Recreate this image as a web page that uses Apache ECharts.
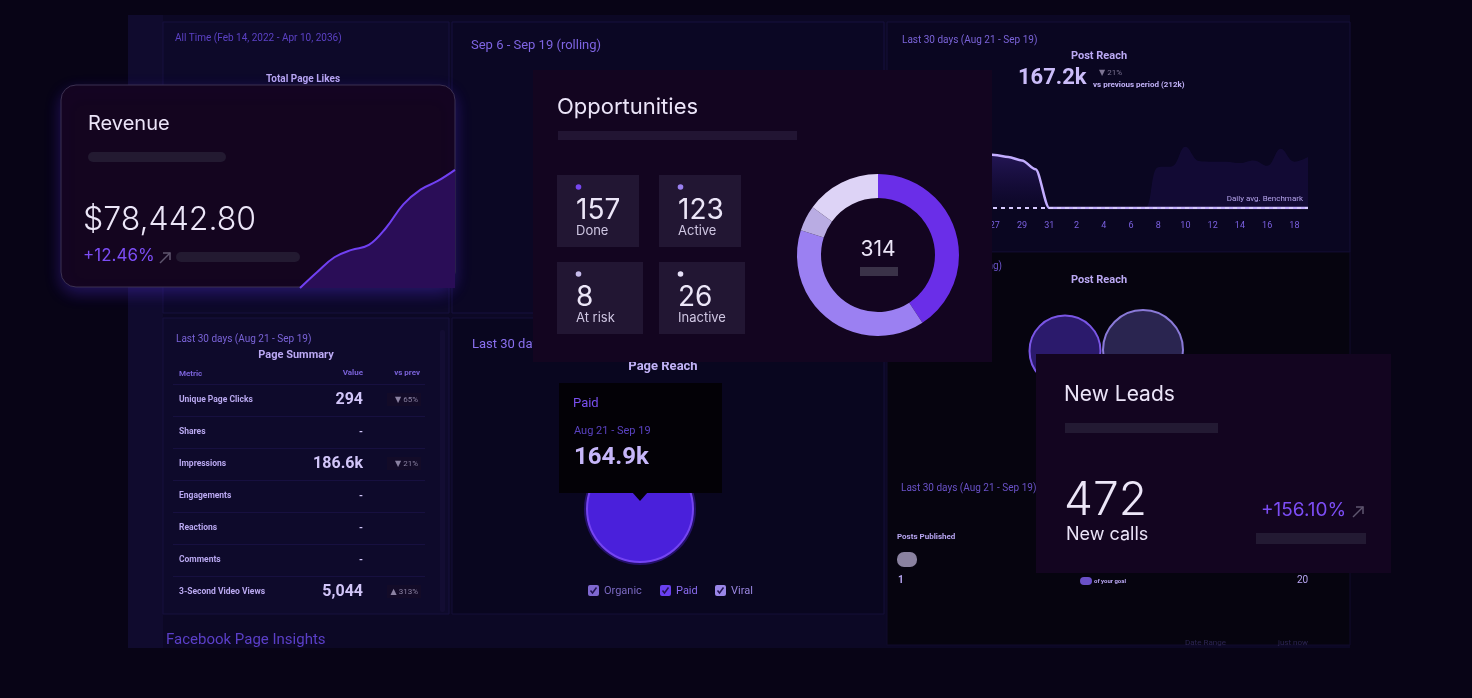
<!DOCTYPE html>
<html>
<head>
<meta charset="utf-8">
<title>Dashboard</title>
<script src="https://cdn.jsdelivr.net/npm/echarts@6/dist/echarts.min.js"></script>
<style>
html, body { margin: 0; padding: 0; background: #080416; }
#main { width: 1472px; height: 698px; }
</style>
</head>
<body>
<div id="main"></div>
<script>
var chart = echarts.init(document.getElementById('main'));

// revenue sparkline (card, bottom right)
var revenueTrend = [0, 13, 25, 31, 35, 49, 68, 80, 87, 96];

// opportunities
var oppLabels = ['Done', 'Active', 'At risk', 'Inactive'];
var oppCounts = [157, 123, 8, 26];
var oppArc = [128, 123, 16, 47]; // donut arcs as drawn
var oppTotal = 314;
var oppColors = ['#6a2ee8', '#9b80f2', '#b9ace3', '#ddd3f6'];

// post reach, Aug 21 - Sep 19
var reachDays = ['21', '22', '23', '24', '25', '26', '27', '28', '29', '30', '31',
    '1', '2', '3', '4', '5', '6', '7', '8', '9', '10', '11', '12', '13', '14', '15', '16', '17', '18', '19'];
var reachCurrent = [80, 81, 80, 79, 80, 79, 78, 75, 70, 57, 0,
    0, 0, 0, 0, 0, 0, 0, 0, 0, 0, 0, 0, 0, 0, 0, 0, 0, 0, 0];
var reachPrevious = [0, 0, 0, 0, 0, 0, 0, 0, 0, 0, 0,
    0, 0, 0, 0, 0, 0, 0, 60, 61, 90, 69, 68, 68, 66, 70, 62, 87, 68, 75];

// post reach bubbles
var bubbleNames = ['Organic', 'Paid'];
var bubbleX = [65, 143];
var bubbleY = [49, 50];
var bubbleSize = [71, 80];

// page reach
var pageReachNames = ['Organic', 'Paid', 'Viral'];
var pageReachValues = [0, 164.9, 0];

// page summary table
var summaryMetrics = ['Unique Page Clicks', 'Shares', 'Impressions', 'Engagements', 'Reactions', 'Comments', '3-Second Video Views'];
var summaryValues = ['294', '-', '186.6k', '-', '-', '-', '5,044'];
var summaryChange = ['\u25BC 65%', '', '\u25BC 21%', '', '', '', '\u25B2 313%'];

var els = [];
function box(x, y, w, h, fill, z, o) {
    o = o || {};
    var e = {
        type: 'rect', z: z, silent: true,
        shape: { x: x, y: y, width: w, height: h, r: o.r || 0 },
        style: { fill: fill }
    };
    if (o.stroke) { e.style.stroke = o.stroke; e.style.lineWidth = o.lw || 1; }
    if (o.glow) { e.style.shadowBlur = 16; e.style.shadowColor = o.glow; e.style.shadowOffsetY = 6; }
    els.push(e);
}
function label(x, y, str, font, color, z, align) {
    els.push({
        type: 'text', x: x, y: y, z: z, silent: true,
        style: { text: str, font: font, fill: color, textAlign: align || 'left', textVerticalAlign: 'middle' }
    });
}
function arrow(x, y, color, z) {
    els.push({ type: 'polyline', z: z, silent: true, shape: { points: [[x, y + 10], [x + 10, y]] }, style: { stroke: color, lineWidth: 1.5 } });
    els.push({ type: 'polyline', z: z, silent: true, shape: { points: [[x + 3, y], [x + 10, y], [x + 10, y + 7]] }, style: { stroke: color, lineWidth: 1.5, fill: null } });
}

var RB = 'Roboto, "DejaVu Sans", sans-serif';
var IN = 'Inter, "Noto Sans", sans-serif';

// dashboard background panels
box(128, 15, 1222, 633, '#0c0825', 0);
box(128, 15, 35, 633, '#100b2e', 0);
box(163, 22, 286, 291, '#0d0929', 0, { stroke: '#17113f' });
box(452, 22, 432, 291, '#0b0724', 0, { stroke: '#17113f' });
box(887, 22, 463, 230, '#0a0621', 0, { stroke: '#140e38' });
box(163, 318, 286, 296, '#0e0a2b', 0, { stroke: '#17113f' });
box(452, 318, 432, 296, '#09061f', 0, { stroke: '#140e38' });
box(887, 252, 463, 393, '#06040f', 0, { stroke: '#100b2c' });
box(440, 330, 5, 282, '#130d33', 1, { r: 2 });

label(175, 38, 'All Time (Feb 14, 2022 - Apr 10, 2036)', '10px ' + RB, '#5b41c4', 1);
label(303, 79, 'Total Page Likes', 'bold 10px ' + RB, '#b8a6f2', 1, 'center');
label(471, 46, 'Sep 6 - Sep 19 (rolling)', '13px ' + RB, '#7e64e2', 1);
label(902, 40, 'Last 30 days (Aug 21 - Sep 19)', '10px ' + RB, '#7a63d8', 1);
label(1099, 56, 'Post Reach', 'bold 11px ' + RB, '#bba9f4', 1, 'center');
label(1018, 78, '167.2k', 'bold 22px ' + RB, '#cbbcf9', 1);
label(1099, 73, '\u25BC 21%', '8px ' + RB, '#7d7494', 1);
label(1093, 85, 'vs previous period (212k)', 'bold 8px ' + RB, '#c2b2f8', 1);
label(1002, 266, 'Sep 6 - Sep 19 (rolling)', '10px ' + RB, '#6a52c8', 1, 'right');
label(1099, 280, 'Post Reach', 'bold 11px ' + RB, '#bba9f4', 1, 'center');

// page summary table
label(176, 339, 'Last 30 days (Aug 21 - Sep 19)', '10px ' + RB, '#7a63d8', 1);
label(296, 355, 'Page Summary', 'bold 11px ' + RB, '#bba9f4', 1, 'center');
label(179, 374, 'Metric', 'bold 8px ' + RB, '#7a62d8', 1);
label(363, 373, 'Value', 'bold 8px ' + RB, '#7a62d8', 1, 'right');
label(420, 373, 'vs prev', 'bold 8px ' + RB, '#7a62d8', 1, 'right');
summaryMetrics.forEach(function (m, i) {
    var y = 400 + 32 * i;
    box(173, 384 + 32 * i, 252, 1, '#171040', 1);
    label(179, y, m, 'bold 8.5px ' + RB, '#b9a8f0', 1);
    var v = summaryValues[i];
    label(363, y, v, v === '-' ? 'bold 10px ' + RB : 'bold 16px ' + RB, '#d2c6f9', 1, 'right');
    if (summaryChange[i]) {
        box(387, y - 7, 34, 13, '#130b28', 1);
        label(418, y, summaryChange[i], '8px ' + RB, '#8b82a2', 1, 'right');
    }
});
label(166, 640, 'Facebook Page Insights', '15px ' + RB, '#5b3fc8', 1);

// page reach panel
label(472, 345, 'Last 30 days (Aug 21 - Sep 19)', '13px ' + RB, '#8a70f0', 1);
label(663, 367, 'Page Reach', 'bold 13px ' + RB, '#c2b2f6', 1, 'center');
els.push({ type: 'circle', z: 1, silent: true, shape: { cx: 640, cy: 509, r: 56 }, style: { fill: '#24106a' } });
box(559, 383, 163, 110, '#030106', 3);
els.push({ type: 'polygon', z: 3, silent: true, shape: { points: [[632, 492], [648, 492], [640, 501]] }, style: { fill: '#030106' } });
label(573, 404, 'Paid', '13px ' + RB, '#7a50f0', 4);
label(574, 431, 'Aug 21 - Sep 19', '11px ' + RB, '#5a42c0', 4);
label(574, 458, '164.9k', 'bold 24px ' + RB, '#c6b6f9', 4);
var legendX = [588, 660, 715];
var legendBox = ['#7f68d0', '#6a40f0', '#9a86e8'];
var legendText = ['#7a68c0', '#8a6cf0', '#9a86e0'];
pageReachNames.forEach(function (n, i) {
    var x = legendX[i];
    box(x, 585, 11, 11, legendBox[i], 1, { r: 2 });
    els.push({ type: 'polyline', z: 2, silent: true, shape: { points: [[x + 2.5, 590.5], [x + 4.5, 593], [x + 8.5, 587.5]] }, style: { stroke: '#231452', lineWidth: 1.5, fill: null } });
    label(x + 16, 591, n, '11px ' + RB, legendText[i], 1);
});

// posts published panel
label(901, 488, 'Last 30 days (Aug 21 - Sep 19)', '10px ' + RB, '#6a52c8', 1);
label(897, 537, 'Posts Published', 'bold 8px ' + RB, '#b8a6f2', 1);
box(897, 552, 20, 15, '#8a82a0', 1, { r: 7 });
label(898, 580, '1', 'bold 10px ' + RB, '#b8a6f2', 1);
box(1080, 577, 12, 8, '#6a50c8', 1, { r: 4 });
label(1094, 581, 'of your goal', 'bold 6px ' + RB, '#b8a6f2', 1);
label(1297, 580, '20', '10px ' + RB, '#b8a6f2', 1);
label(1185, 643, 'Date Range', '8px ' + RB, '#2c2552', 1);
label(1278, 643, 'just now', '8px ' + RB, '#2c2552', 1);

// revenue card
box(61, 85, 394, 202, '#14051f', 10, { r: 15, stroke: '#3b3150', glow: 'rgba(100,60,255,0.3)' });
label(88, 124, 'Revenue', '20px ' + IN, '#ebe4f8', 12);
box(88, 152, 138, 10, '#231a31', 12, { r: 5 });
label(83, 220, '$78,442.80', '300 32px ' + IN, '#ece6f8', 12);
label(83, 256, '+12.46%', '17px ' + IN, '#7c4df5', 12);
arrow(160, 253, '#5f566f', 12);
box(176, 252, 124, 10, '#231a31', 12, { r: 5 });

// opportunities card
box(533, 70, 459, 292, '#130520', 20);
label(557, 107, 'Opportunities', '22px ' + IN, '#ebe4f8', 22);
box(558, 131, 239, 9, '#221533', 22);
var dotColors = ['#7747f0', '#9a80f0', '#c7bcec', '#e6e0f7'];
oppLabels.forEach(function (n, i) {
    var col = i % 2, row = Math.floor(i / 2);
    var tx = 557 + col * 102, ty = 175 + row * 87;
    box(tx, ty, row ? 86 : 82, 72, '#221633', 21);
    els.push({ type: 'circle', z: 22, silent: true, shape: { cx: tx + 21.5, cy: ty + 12, r: 2.8 }, style: { fill: dotColors[i] } });
    label(tx + 19, ty + 36, String(oppCounts[i]), '28px ' + IN, '#ece6f8', 22);
    label(tx + 19, ty + 56, n, '13px ' + IN, '#cfc6e2', 22);
});
label(878, 250, String(oppTotal), '21px ' + IN, '#ece6f8', 22, 'center');
box(860, 267, 38, 9, '#3a3248', 22);

// new leads card
box(1036, 354, 355, 219, '#130520', 30);
label(1064, 395, 'New Leads', '21px ' + IN, '#ebe4f8', 31);
box(1065, 423, 153, 10, '#231a33', 31);
label(1064, 501, '472', '300 46px ' + IN, '#ece6f8', 31);
label(1066, 535, 'New calls', '18px ' + IN, '#ebe4f8', 31);
label(1261, 510, '+156.10%', '19px ' + IN, '#7c4df5', 31);
arrow(1353, 507, '#5f566f', 31);
box(1256, 533, 110, 11, '#231a33', 31);

var option = {
    backgroundColor: '#080416',
    animation: false,
    grid: [
        { left: 300, right: 1017, top: 165, bottom: 410 },
        { left: 913, right: 164, top: 140, bottom: 490 },
        { left: 1000, width: 200, top: 300, height: 100 }
    ],
    xAxis: [
        { gridIndex: 0, type: 'category', boundaryGap: false, show: false, data: revenueTrend.map(function (v, i) { return i; }) },
        {
            gridIndex: 1, type: 'category', boundaryGap: false, data: reachDays, z: 2,
            axisLine: { show: false }, axisTick: { show: false },
            axisLabel: { interval: 1, color: '#7b60e0', fontSize: 9, fontFamily: 'Roboto', margin: 13 }
        },
        { gridIndex: 2, type: 'value', min: 0, max: 200, show: false }
    ],
    yAxis: [
        { gridIndex: 0, type: 'value', min: 0, max: 100, show: false },
        { gridIndex: 1, type: 'value', min: 0, max: 100, show: false },
        { gridIndex: 2, type: 'value', min: 0, max: 100, show: false }
    ],
    series: [{
        name: 'Revenue',
        type: 'line',
        xAxisIndex: 0, yAxisIndex: 0,
        z: 11, silent: true,
        smooth: 0.4,
        symbol: 'none',
        lineStyle: { color: '#7040f2', width: 2 },
        areaStyle: { color: '#2a0d57', opacity: 1 },
        data: revenueTrend
    }, {
        name: 'Previous period',
        type: 'line',
        xAxisIndex: 1, yAxisIndex: 1,
        z: 1, silent: true,
        smooth: 0.4,
        symbol: 'none',
        lineStyle: { width: 0 },
        areaStyle: { color: 'rgba(58,34,140,0.25)' },
        data: reachPrevious
    }, {
        name: 'Post Reach',
        type: 'line',
        xAxisIndex: 1, yAxisIndex: 1,
        z: 1, silent: true,
        smooth: 0.3,
        smoothMonotone: 'x',
        symbol: 'none',
        lineStyle: { color: '#c3adff', width: 2.5 },
        areaStyle: {
            color: new echarts.graphic.LinearGradient(0, 0, 0, 1, [
                { offset: 0, color: 'rgba(100,62,215,0.42)' },
                { offset: 1, color: 'rgba(60,30,150,0.08)' }
            ])
        },
        markLine: {
            silent: true,
            symbol: 'none',
            data: [{ yAxis: 0 }],
            lineStyle: { color: '#d6c8ff', type: [4, 4], width: 2 },
            label: { formatter: 'Daily avg. Benchmark', position: 'insideEndTop', color: '#b3a2ea', fontSize: 8, fontFamily: 'Roboto' }
        },
        data: reachCurrent
    }, {
        name: 'Post Reach bubbles',
        type: 'scatter',
        xAxisIndex: 2, yAxisIndex: 2,
        z: 2, silent: true,
        symbolSize: function (val, p) { return bubbleSize[p.dataIndex]; },
        data: bubbleNames.map(function (n, i) {
            return {
                name: n,
                value: [bubbleX[i], bubbleY[i]],
                itemStyle: i === 0
                    ? { color: '#2b1a6c', borderColor: '#7a56e6', borderWidth: 2, opacity: 1 }
                    : { color: '#2a2550', borderColor: '#8a7ad8', borderWidth: 2, opacity: 1 }
            };
        })
    }, {
        name: 'Page Reach',
        type: 'pie',
        z: 2, silent: true,
        center: [640, 509],
        radius: [0, 53],
        label: { show: false },
        labelLine: { show: false },
        itemStyle: { borderWidth: 0 },
        data: pageReachNames.map(function (n, i) {
            var d = { name: n, value: pageReachValues[i] };
            if (n === 'Paid') d.itemStyle = { color: '#4a20db', borderColor: '#7444f2', borderWidth: 2 };
            return d;
        })
    }, {
        name: 'Opportunities',
        type: 'pie',
        z: 21, silent: true,
        center: [878, 255],
        radius: [57, 81],
        startAngle: 90,
        label: { show: false },
        labelLine: { show: false },
        itemStyle: { borderWidth: 0 },
        data: oppLabels.map(function (n, i) {
            return { name: n, value: oppArc[i], itemStyle: { color: oppColors[i] } };
        })
    }],
    graphic: { elements: els }
};
chart.setOption(option);
</script>
</body>
</html>
